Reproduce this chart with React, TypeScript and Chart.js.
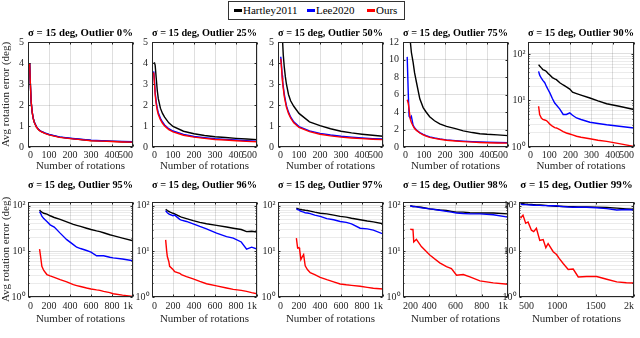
import React, { useEffect, useRef } from "react";
import { Chart, registerables } from "chart.js";

Chart.register(...registerables);

const FONT = "'Liberation Serif', 'Times New Roman', Times, serif";
const SERIES_NAMES = ["Hartley2011", "Lee2020", "Ours"];
const SERIES_COLORS = ["#000000", "#0000ff", "#ff0000"];
const X_TITLE = "Number of rotations";
const Y_TITLE = "Avg rotation error (deg)";
const SIGMA_LABEL = "\u03c3 = 15 deg, Outlier ";

// ---- tick values / labels ----
const X_TICKS_500 = [0, 100, 200, 300, 400, 500];
const X_LABELS_500 = ["0", "100", "200", "300", "400", "500"];
const X_TICKS_1K = [0, 200, 400, 600, 800, 1000];
const X_LABELS_1K = ["0", "200", "400", "600", "800", "1k"];
const X_TICKS_98 = [200, 400, 600, 800, 1000];
const X_LABELS_98 = ["200", "400", "600", "800", "1k"];
const X_TICKS_99 = [500, 1000, 1500, 2000];
const X_LABELS_99 = ["500", "1000", "1500", "2k"];
const Y_TICKS_5 = [0, 1, 2, 3, 4, 5];
const Y_TICKS_12 = [0, 2, 4, 6, 8, 10, 12];
const Y_TICKS_LOG = [1, 2, 3, 4, 5, 6, 7, 8, 9, 10, 20, 30, 40, 50, 60, 70, 80, 90, 100];
const LOG_LABELS: Record<number, string> = { 1: "10\u2070", 10: "10\u00b9", 100: "10\u00b2" };

// ---- Outlier 0% ----
const O0_X = [8, 10, 15, 20, 25, 30, 40, 50, 60, 80, 100, 150, 200, 250, 300, 350, 400, 450, 500];
const O0_HARTLEY = [4.0, 3.3, 2.15, 1.65, 1.36, 1.18, 0.96, 0.83, 0.75, 0.66, 0.59, 0.47, 0.41, 0.36, 0.31, 0.29, 0.27, 0.25, 0.24];
const O0_LEE = [4.0, 3.3, 2.15, 1.66, 1.37, 1.19, 0.97, 0.84, 0.76, 0.67, 0.6, 0.48, 0.42, 0.37, 0.32, 0.3, 0.28, 0.26, 0.25];
const O0_OURS = [4.0, 3.3, 2.15, 1.65, 1.35, 1.17, 0.95, 0.82, 0.74, 0.65, 0.58, 0.46, 0.4, 0.35, 0.3, 0.28, 0.26, 0.24, 0.23];

// ---- Outlier 25% ----
const O25_X = [8, 12, 15, 20, 25, 30, 40, 50, 60, 80, 100, 150, 200, 250, 300, 350, 400, 450, 500];
const O25_HARTLEY = [4.0, 4.0, 3.9, 3.3, 2.7, 2.3, 1.85, 1.6, 1.42, 1.15, 0.98, 0.75, 0.63, 0.55, 0.49, 0.45, 0.41, 0.38, 0.35];
const O25_LEE = [3.6, 3.1, 2.6, 2.15, 1.85, 1.63, 1.37, 1.19, 1.05, 0.87, 0.76, 0.6, 0.5, 0.44, 0.39, 0.36, 0.33, 0.3, 0.28];
const O25_OURS = [3.55, 3.0, 2.5, 2.05, 1.75, 1.55, 1.3, 1.13, 1.0, 0.83, 0.72, 0.56, 0.47, 0.41, 0.36, 0.33, 0.3, 0.27, 0.25];

// ---- Outlier 50% ----
const O50_X = [13, 15, 20, 22, 25, 30, 35, 40, 50, 60, 75, 100, 150, 200, 250, 300, 350, 400, 450, 500];
const O50_HARTLEY = [null, null, 6.0, 5.0, 4.4, 3.8, 3.35, 3.0, 2.5, 2.2, 1.94, 1.6, 1.2, 1.02, 0.87, 0.75, 0.67, 0.61, 0.56, 0.51];
const O50_LEE = [4.3, 4.1, 3.4, 3.15, 2.9, 2.5, 2.23, 1.97, 1.66, 1.43, 1.2, 0.97, 0.77, 0.65, 0.57, 0.51, 0.47, 0.43, 0.4, 0.38];
const O50_OURS = [4.2, 4.0, 3.3, 3.05, 2.8, 2.4, 2.15, 1.9, 1.6, 1.38, 1.15, 0.93, 0.73, 0.61, 0.53, 0.47, 0.43, 0.4, 0.37, 0.35];

// ---- Outlier 75% ----
const O75_X = [20, 25, 29, 35, 40, 48, 55, 64, 80, 96, 110, 127, 150, 175, 207, 250, 287, 330, 366, 400, 450, 500];
const O75_HARTLEY = [25, 18, 14, 12, 10.8, 9.7, 8.5, 7.4, 5.5, 4.5, 4.0, 3.46, 3.0, 2.65, 2.35, 2.1, 1.85, 1.65, 1.52, 1.45, 1.38, 1.3];
const O75_LEE = [10.3, 6.2, 3.5, 3.3, 3.5, 2.5, 2.2, 1.95, 1.65, 1.45, 1.3, 1.15, 1.03, 0.93, 0.82, 0.73, 0.67, 0.62, 0.58, 0.55, 0.52, 0.5];
const O75_OURS = [5.4, 5.0, 4.3, 3.15, 2.8, 2.4, 2.1, 1.9, 1.6, 1.4, 1.25, 1.1, 0.98, 0.88, 0.77, 0.68, 0.62, 0.56, 0.52, 0.49, 0.46, 0.44];

// ---- Outlier 90% ----
const O90_X = [50, 55, 63, 70, 79, 87, 95, 103, 115, 126, 134, 150, 166, 181, 197, 210, 229, 250, 292, 330, 371, 430, 500];
const O90_HARTLEY = [59, 55, 50, 46, 44, 42, 38, 35, 31, 29, 28, 24, 21.5, 19.5, 17.5, 15, 14, 13, 11.3, 9.8, 8.5, 7.5, 6.4];
const O90_LEE = [42, 35, 30, 27, 24, 20, 17, 14.5, 11, 8.8, 8, 6.5, 5, 5.0, 5.4, 4.8, 4.2, 3.9, 3.4, 3.2, 3.0, 2.8, 2.55];
const O90_OURS = [7.5, 5, 4.2, 3.9, 3.8, 3.7, 3.4, 3.1, 2.8, 2.6, 2.56, 2.35, 2.15, 2.0, 1.9, 1.82, 1.7, 1.62, 1.5, 1.4, 1.32, 1.18, 1.03];

// ---- Outlier 95% ----
const O95_X = [110, 120, 132, 150, 180, 211, 250, 306, 369, 432, 464, 500, 558, 600, 653, 685, 720, 779, 811, 900, 1000];
const O95_HARTLEY = [80, 75, 72, 68, 65, 60, 55, 50, 44, 39, 37, 35, 32, 30, 28, 27, 25.5, 23, 22, 19.5, 17];
const O95_LEE = [74, 68, 59, 52, 45, 38, 34, 25, 18, 14, 12.3, 11.5, 10.4, 9.6, 8, 8.0, 8.0, 7.4, 7.2, 6.8, 6.2];
const O95_OURS = [11.2, 7.7, 4.7, 3.8, 3.1, 2.9, 2.7, 2.4, 2.15, 1.86, 1.78, 1.7, 1.57, 1.5, 1.43, 1.4, 1.33, 1.25, 1.18, 1.1, 1.03];

// ---- Outlier 96% ----
const O96_X = [130, 140, 146, 160, 168, 200, 216, 264, 280, 328, 392, 455, 519, 615, 710, 774, 850, 901, 949, 1000];
const O96_HARTLEY = [83, 80, 78, 75, 73, 68, 66, 58, 56, 52, 47, 43, 40, 37, 34, 32, 30, 27, 27.5, 26.5];
const O96_LEE = [78, 72, 70, 66, 64, 60, 62, 50, 48, 45, 40, 35, 31, 25, 21, 19.5, 16, 11.2, 12.3, 11.2];
const O96_OURS = [17.8, 10, 7.7, 6, 4.7, 4.0, 3.6, 3.3, 3.1, 2.8, 2.5, 2.2, 1.95, 1.75, 1.57, 1.47, 1.4, 1.33, 1.25, 1.18];

// ---- Outlier 97% ----
const O97_X = [175, 187, 200, 206, 218, 230, 244, 259, 280, 307, 350, 402, 465, 530, 592, 650, 700, 782, 850, 908, 1000];
const O97_HARTLEY = [88, 86, 84, 83, 82, 81, 80, 79, 78, 76, 72, 68, 66, 62, 58, 56, 53, 49, 46, 44, 40];
const O97_LEE = [85, 82, 80, 78, 76, 74, 72, 70, 69, 67, 62, 58, 52, 49, 45, 43, 40, 32, 31, 29, 24];
const O97_OURS = [19.4, 11.8, 12, 10.9, 6.6, 7.5, 8.5, 4.8, 4.0, 3.4, 3.1, 2.7, 2.4, 2.15, 1.93, 1.85, 1.8, 1.72, 1.62, 1.55, 1.5];

// ---- Outlier 98% ----
const O98_X = [255, 265, 276, 282, 302, 340, 404, 480, 531, 569, 608, 659, 710, 786, 888, 1000];
const O98_HARTLEY = [100, 98, 96, 96, 95, 92, 85, 80, 78, 75, 72, 72, 70, 69, 69, 66];
const O98_LEE = [98, 97, 95, 96, 94, 90, 85, 79, 75, 72, 69, 67, 66, 66, 63, 56];
const O98_OURS = [30.5, 30, 30, 16, 18.3, 12.7, 8.3, 5.6, 4.6, 4.2, 3.0, 3.1, 2.76, 2.25, 2.04, 1.9];

// ---- Outlier 99% ----
const O99_X = [520, 552, 587, 618, 662, 692, 727, 771, 815, 850, 880, 946, 990, 1024, 1076, 1142, 1207, 1273, 1382, 1513, 1644, 1775, 1900, 2000];
const O99_HARTLEY = [112, 110, 108, 107, 106, 105, 104, 103, 102, 101, 100, 98, 97, 97, 96, 95, 95, 94, 93, 92, 91, 88, 85, 83];
const O99_LEE = [108, 106, 105, 104, 103, 102, 101, 101, 100, 100, 99, 99, 99, 97, 95, 93, 92, 92, 92, 90, 86, 80, 82, 80];
const O99_OURS = [53, 62, 41, 44, 29, 27, 32, 17.3, 18, 12, 14.8, 9.8, 8.5, 7, 5.4, 4.0, 4.1, 2.75, 2.8, 2.8, 2.45, 2.14, 2.05, 2.03];

type Num = number | null;
type PanelSpec = {
  outlier: string;
  x: number[];
  series: Num[][]; // hartley, lee, ours
  xTicks: number[];
  xLabels: string[];
  yLog: boolean;
  yMin: number;
  yMax: number;
  yTicks: number[];
  row: number;
  left: number;
  width: number;
  yTitle: boolean;
};

const PANELS: PanelSpec[] = [
  { outlier: "0%", x: O0_X, series: [O0_HARTLEY, O0_LEE, O0_OURS], xTicks: X_TICKS_500, xLabels: X_LABELS_500, yLog: false, yMin: 0, yMax: 5, yTicks: Y_TICKS_5, row: 0, left: 28, width: 105, yTitle: true },
  { outlier: "25%", x: O25_X, series: [O25_HARTLEY, O25_LEE, O25_OURS], xTicks: X_TICKS_500, xLabels: X_LABELS_500, yLog: false, yMin: 0, yMax: 5, yTicks: Y_TICKS_5, row: 0, left: 152, width: 105, yTitle: false },
  { outlier: "50%", x: O50_X, series: [O50_HARTLEY, O50_LEE, O50_OURS], xTicks: X_TICKS_500, xLabels: X_LABELS_500, yLog: false, yMin: 0, yMax: 5, yTicks: Y_TICKS_5, row: 0, left: 278, width: 105, yTitle: false },
  { outlier: "75%", x: O75_X, series: [O75_HARTLEY, O75_LEE, O75_OURS], xTicks: X_TICKS_500, xLabels: X_LABELS_500, yLog: false, yMin: 0, yMax: 12, yTicks: Y_TICKS_12, row: 0, left: 403, width: 105, yTitle: false },
  { outlier: "90%", x: O90_X, series: [O90_HARTLEY, O90_LEE, O90_OURS], xTicks: X_TICKS_500, xLabels: X_LABELS_500, yLog: true, yMin: 1, yMax: 180, yTicks: Y_TICKS_LOG, row: 0, left: 528, width: 106, yTitle: false },
  { outlier: "95%", x: O95_X, series: [O95_HARTLEY, O95_LEE, O95_OURS], xTicks: X_TICKS_1K, xLabels: X_LABELS_1K, yLog: true, yMin: 1, yMax: 120, yTicks: Y_TICKS_LOG, row: 1, left: 28, width: 105, yTitle: true },
  { outlier: "96%", x: O96_X, series: [O96_HARTLEY, O96_LEE, O96_OURS], xTicks: X_TICKS_1K, xLabels: X_LABELS_1K, yLog: true, yMin: 1, yMax: 120, yTicks: Y_TICKS_LOG, row: 1, left: 152, width: 105, yTitle: false },
  { outlier: "97%", x: O97_X, series: [O97_HARTLEY, O97_LEE, O97_OURS], xTicks: X_TICKS_1K, xLabels: X_LABELS_1K, yLog: true, yMin: 1, yMax: 120, yTicks: Y_TICKS_LOG, row: 1, left: 278, width: 105, yTitle: false },
  { outlier: "98%", x: O98_X, series: [O98_HARTLEY, O98_LEE, O98_OURS], xTicks: X_TICKS_98, xLabels: X_LABELS_98, yLog: true, yMin: 1, yMax: 120, yTicks: Y_TICKS_LOG, row: 1, left: 403, width: 105, yTitle: false },
  { outlier: "99%", x: O99_X, series: [O99_HARTLEY, O99_LEE, O99_OURS], xTicks: X_TICKS_99, xLabels: X_LABELS_99, yLog: true, yMin: 1, yMax: 120, yTicks: Y_TICKS_LOG, row: 1, left: 519, width: 115, yTitle: false },
];

const ROWS = [
  { top: 42, height: 105, titlePadTop: 8.4, xTickPad: 2.5, bottomSpace: 26, xTitlePadBottom: 0.7 },
  { top: 202, height: 95, titlePadTop: 0.4, xTickPad: 3.7, bottomSpace: 30, xTitlePadBottom: 1.4 },
];
const TOP_SPACE = 24;
const TITLE_SIZE = 11;
const TICK_SIZE = 10;
const LABEL_SIZE = 11;
const LINE_WIDTH = 1.4;
const AXIS_COLOR = "#262626";
const GRID_MAJOR = "rgba(38,38,38,0.15)";
const GRID_MINOR = "rgba(38,38,38,0.09)";

const boxPlugin = {
  id: "matlabBox",
  afterDraw(chart: any) {
    const { ctx, chartArea: a } = chart;
    ctx.save();
    ctx.strokeStyle = AXIS_COLOR;
    ctx.lineWidth = 1;
    const l = a.left + 0.5, t = a.top + 0.5, r = a.right - 0.5, b = a.bottom - 0.5;
    ctx.strokeRect(l, t, r - l, b - t);
    const tl = 2;
    ctx.beginPath();
    const xs = chart.scales.x;
    xs.ticks.forEach((tk: any) => {
      const px = Math.round(xs.getPixelForValue(tk.value)) + 0.5;
      ctx.moveTo(px, b); ctx.lineTo(px, b - tl);
      ctx.moveTo(px, t); ctx.lineTo(px, t + tl);
    });
    const ys = chart.scales.y;
    ys.ticks.forEach((tk: any) => {
      const labeled = ys.type !== "logarithmic" || LOG_LABELS[tk.value] !== undefined;
      const len = labeled ? tl : 1;
      const py = Math.round(ys.getPixelForValue(tk.value)) + 0.5;
      ctx.moveTo(l, py); ctx.lineTo(l + len, py);
      ctx.moveTo(r, py); ctx.lineTo(r - len, py);
    });
    ctx.stroke();
    ctx.restore();
  },
};

function Panel({ spec }: { spec: PanelSpec }) {
  const ref = useRef<HTMLCanvasElement>(null);
  const row = ROWS[spec.row];
  const side = spec.yTitle ? spec.left : 24;
  const rightPad = 14;
  const cw = spec.width + side + rightPad;
  const ch = row.height + TOP_SPACE + row.bottomSpace;

  useEffect(() => {
    if (!ref.current) return;
    const order = [2, 1, 0]; // red on top, then blue, then black
    const datasets = order.map((si) => ({
      label: SERIES_NAMES[si],
      data: spec.x.map((x, i) => ({ x, y: spec.series[si][i] })),
      borderColor: SERIES_COLORS[si],
      backgroundColor: SERIES_COLORS[si],
      borderWidth: LINE_WIDTH,
      pointRadius: 0,
      tension: 0,
      spanGaps: false,
    }));
    const tickFont = { family: FONT, size: TICK_SIZE };
    const labelFont = { family: FONT, size: LABEL_SIZE };
    const titleLine = TITLE_SIZE * 1.2;
    const chart = new Chart(ref.current, {
      type: "line",
      data: { datasets } as any,
      plugins: [boxPlugin],
      options: {
        responsive: false,
        maintainAspectRatio: false,
        animation: false,
        devicePixelRatio: 1,
        layout: { padding: { left: 0, top: 0, right: rightPad, bottom: 0 } },
        plugins: {
          legend: { display: false },
          tooltip: { enabled: false },
          title: {
            display: true,
            fullSize: false,
            text: SIGMA_LABEL + spec.outlier,
            color: "#000",
            font: { family: FONT, size: TITLE_SIZE, weight: "bold" },
            padding: { top: row.titlePadTop, bottom: TOP_SPACE - titleLine - row.titlePadTop },
          },
        },
        scales: {
          x: {
            type: "linear",
            min: spec.xTicks[0],
            max: spec.xTicks[spec.xTicks.length - 1],
            afterBuildTicks: (s: any) => {
              s.ticks = spec.xTicks.map((v) => ({ value: v }));
            },
            afterFit: (s: any) => {
              s.height = row.bottomSpace;
            },
            ticks: {
              autoSkip: false,
              maxRotation: 0,
              align: "inner",
              padding: row.xTickPad,
              color: AXIS_COLOR,
              font: tickFont,
              callback: (_v: any, i: number) => spec.xLabels[i],
            },
            grid: { color: GRID_MAJOR, drawTicks: false, lineWidth: 1 },
            border: { display: false },
            title: {
              display: true,
              text: X_TITLE,
              color: AXIS_COLOR,
              font: labelFont,
              padding: { top: 0, bottom: row.xTitlePadBottom },
            },
          },
          y: {
            type: spec.yLog ? "logarithmic" : "linear",
            min: spec.yMin,
            max: spec.yMax,
            afterBuildTicks: (s: any) => {
              s.ticks = spec.yTicks.map((v) => ({ value: v }));
            },
            afterFit: (s: any) => {
              s.width = side;
            },
            ticks: {
              autoSkip: false,
              padding: spec.yLog ? 2.5 : 4,
              color: AXIS_COLOR,
              font: tickFont,
              callback: (v: any) => (spec.yLog ? LOG_LABELS[v as number] ?? "" : String(v)),
            },
            grid: {
              drawTicks: false,
              lineWidth: 1,
              color: (ctx: any) => {
                if (!spec.yLog) return GRID_MAJOR;
                const v = ctx.tick ? ctx.tick.value : 0;
                return LOG_LABELS[v] !== undefined ? GRID_MAJOR : GRID_MINOR;
              },
            },
            border: { display: false },
            title: {
              display: spec.yTitle,
              text: Y_TITLE,
              color: AXIS_COLOR,
              font: labelFont,
              padding: { top: 0, bottom: 0 },
            },
          },
        },
      } as any,
    });
    return () => chart.destroy();
  }, []);

  return (
    <canvas
      ref={ref}
      width={cw}
      height={ch}
      style={{
        position: "absolute",
        left: spec.left - side,
        top: row.top - TOP_SPACE,
        width: cw,
        height: ch,
      }}
    />
  );
}

function Legend() {
  const segs = [
    { seg: 6, text: 15 },
    { seg: 79, text: 88 },
    { seg: 139, text: 148 },
  ];
  return (
    <div
      style={{
        position: "absolute",
        left: 228,
        top: 1,
        width: 177,
        height: 19,
        boxSizing: "border-box",
        border: "1px solid #333",
        background: "#fff",
        fontFamily: FONT,
        fontSize: 11,
        color: "#000",
      }}
    >
      {SERIES_NAMES.map((name, i) => (
        <React.Fragment key={name}>
          <div
            style={{
              position: "absolute",
              left: segs[i].seg - 1,
              top: 7,
              width: 8,
              height: 2.6,
              background: SERIES_COLORS[i],
            }}
          />
          <span
            style={{
              position: "absolute",
              left: segs[i].text - 1,
              top: 1,
              lineHeight: "15px",
              whiteSpace: "nowrap",
            }}
          >
            {name}
          </span>
        </React.Fragment>
      ))}
    </div>
  );
}

export default function App() {
  return (
    <div
      style={{
        position: "absolute",
        left: 0,
        top: 0,
        width: 640,
        height: 338,
        background: "#fff",
        overflow: "hidden",
      }}
    >
      {PANELS.map((p) => (
        <Panel key={p.outlier} spec={p} />
      ))}
      <Legend />
    </div>
  );
}
